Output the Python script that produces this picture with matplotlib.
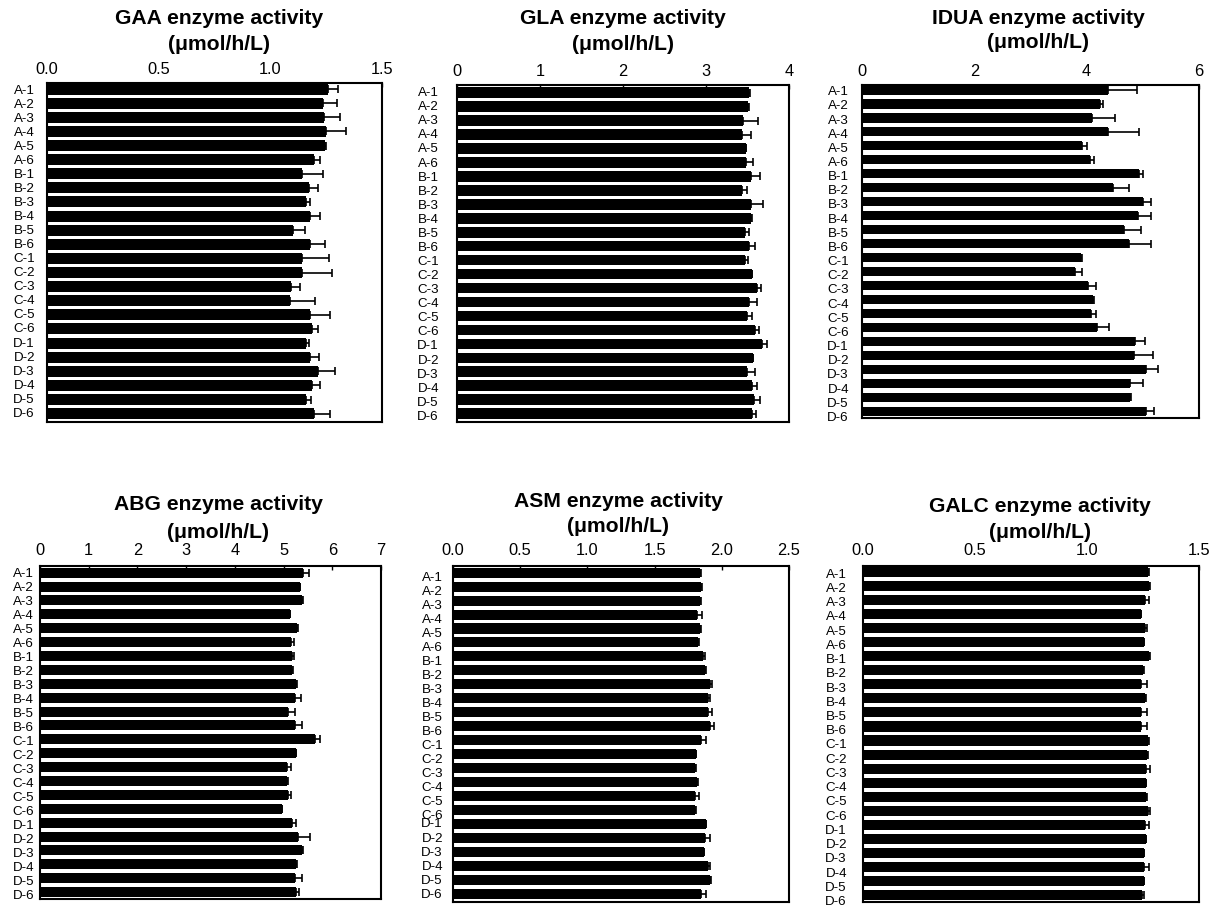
import matplotlib
matplotlib.use("Agg")
import matplotlib.pyplot as plt
import numpy as np

plt.rcParams['font.family'] = ['Liberation Sans', 'DejaVu Sans']

samples = ["A-1", "A-2", "A-3", "A-4", "A-5", "A-6",
           "B-1", "B-2", "B-3", "B-4", "B-5", "B-6",
           "C-1", "C-2", "C-3", "C-4", "C-5", "C-6",
           "D-1", "D-2", "D-3", "D-4", "D-5", "D-6"]

gaa_mean = [1.260, 1.234, 1.241, 1.250, 1.246, 1.196,
            1.144, 1.171, 1.160, 1.178, 1.103, 1.178,
            1.144, 1.144, 1.091, 1.088, 1.178, 1.187,
            1.160, 1.178, 1.213, 1.187, 1.160, 1.196]
gaa_err = [0.042, 0.064, 0.069, 0.090, 0.004, 0.027,
           0.094, 0.042, 0.018, 0.045, 0.052, 0.067,
           0.117, 0.132, 0.042, 0.112, 0.090, 0.025,
           0.015, 0.042, 0.078, 0.036, 0.022, 0.069]

gla_mean = [3.518, 3.506, 3.449, 3.437, 3.477, 3.485,
            3.538, 3.437, 3.546, 3.538, 3.465, 3.518,
            3.465, 3.550, 3.610, 3.518, 3.498, 3.586,
            3.678, 3.566, 3.498, 3.558, 3.578, 3.558]
gla_err = [0.012, 0.012, 0.177, 0.100, 0.008, 0.084,
           0.113, 0.052, 0.145, 0.012, 0.052, 0.068,
           0.044, 0.008, 0.048, 0.092, 0.052, 0.052,
           0.060, 0.004, 0.088, 0.052, 0.072, 0.040]

idua_mean = [4.381, 4.244, 4.095, 4.381, 3.917, 4.065,
             4.929, 4.470, 5.006, 4.917, 4.661, 4.750,
             3.899, 3.798, 4.024, 4.113, 4.077, 4.185,
             4.869, 4.839, 5.060, 4.780, 4.780, 5.060]
idua_err = [0.518, 0.042, 0.417, 0.548, 0.089, 0.071,
            0.071, 0.280, 0.131, 0.220, 0.298, 0.387,
            0.018, 0.119, 0.149, 0.024, 0.095, 0.220,
            0.161, 0.345, 0.208, 0.220, 0.005, 0.137]

abg_mean = [5.397, 5.329, 5.377, 5.123, 5.274, 5.151,
            5.171, 5.171, 5.253, 5.240, 5.089, 5.240,
            5.637, 5.253, 5.068, 5.068, 5.082, 4.966,
            5.171, 5.295, 5.377, 5.260, 5.240, 5.260]
abg_err = [0.116, 0.014, 0.014, 0.014, 0.014, 0.055,
           0.034, 0.014, 0.021, 0.123, 0.137, 0.137,
           0.103, 0.007, 0.089, 0.014, 0.075, 0.003,
           0.089, 0.240, 0.014, 0.014, 0.137, 0.062]

asm_mean = [1.840, 1.848, 1.835, 1.818, 1.835, 1.823,
            1.860, 1.873, 1.910, 1.897, 1.897, 1.910,
            1.848, 1.806, 1.798, 1.818, 1.798, 1.803,
            1.880, 1.873, 1.865, 1.897, 1.910, 1.848]
asm_err = [0.007, 0.005, 0.007, 0.035, 0.012, 0.007,
           0.012, 0.007, 0.017, 0.012, 0.030, 0.030,
           0.037, 0.005, 0.007, 0.005, 0.032, 0.005,
           0.005, 0.037, 0.005, 0.012, 0.012, 0.032]

galc_mean = [1.272, 1.277, 1.257, 1.240, 1.257, 1.253,
             1.277, 1.250, 1.243, 1.260, 1.243, 1.243,
             1.272, 1.268, 1.262, 1.262, 1.265, 1.272,
             1.257, 1.262, 1.253, 1.254, 1.253, 1.247]
galc_err = [0.005, 0.003, 0.019, 0.003, 0.010, 0.003,
            0.003, 0.003, 0.025, 0.003, 0.025, 0.025,
            0.007, 0.003, 0.018, 0.003, 0.003, 0.010,
            0.018, 0.003, 0.003, 0.025, 0.003, 0.006]

titles = ["GAA", "GLA", "IDUA", "ABG", "ASM", "GALC"]
xmaxes = [1.5, 4, 6, 7, 2.5, 1.5]
xticks = [[0.0, 0.5, 1.0, 1.5], [0, 1, 2, 3, 4], [0, 2, 4, 6],
          [0, 1, 2, 3, 4, 5, 6, 7], [0.0, 0.5, 1.0, 1.5, 2.0, 2.5],
          [0.0, 0.5, 1.0, 1.5]]
xticklabels = [["0.0", "0.5", "1.0", "1.5"], ["0", "1", "2", "3", "4"],
               ["0", "2", "4", "6"], ["0", "1", "2", "3", "4", "5", "6", "7"],
               ["0.0", "0.5", "1.0", "1.5", "2.0", "2.5"],
               ["0.0", "0.5", "1.0", "1.5"]]
means = [gaa_mean, gla_mean, idua_mean, abg_mean, asm_mean, galc_mean]
errs = [gaa_err, gla_err, idua_err, abg_err, asm_err, galc_err]

# ---- layout (pixels) ----
W, H = 1230, 908
frames = [(47, 83, 382, 422), (457, 85, 789, 422), (862, 85, 1199, 418),
          (40, 566, 381, 899), (453, 566, 789, 902), (863, 566, 1199, 902)]
ylims = [(23.59, -0.43), (23.6, -0.55), (23.48, -0.36),
         (23.5, -0.48), (23.6, -0.48), (23.47, -0.4)]
bar_h = [0.78, 0.76, 0.65, 0.72, 0.72, 0.72]
ypad_px = [12, 18, 13, 6, 10, 16]
title_pos = [(219, 18, 45), (623, 18, 45), (1038, 18, 43),
             (218, 505, 532), (618, 502, 527), (1040, 507, 533)]
xpad_px = [6, 6, 6, 8, 8, 8]
label_ramp = [(0.0, -0.1), (-0.07, 0.12), (0.05, 0.36),
              (0.0, 0.2), None, (0.12, 0.36)]

fig = plt.figure(figsize=(W / 100, H / 100), dpi=100)

n = len(samples)
idx = np.arange(n)
for k in range(6):
    l, t, r, b = frames[k]
    ax = fig.add_axes([l / W, 1 - b / H, (r - l) / W, (b - t) / H])
    m = np.array(means[k])
    e = np.array(errs[k])
    ax.barh(idx, m, height=bar_h[k], color='black', edgecolor='none', zorder=2)
    ax.errorbar(m, idx, xerr=[np.zeros(n), e], fmt='none', ecolor='black',
                elinewidth=1.2, capsize=3.2, capthick=1.2, zorder=3)
    ax.set_xlim(0, xmaxes[k])
    ax.set_ylim(*ylims[k])
    ax.xaxis.tick_top()
    ax.set_xticks(xticks[k])
    ax.set_xticklabels(xticklabels[k])
    ax.tick_params(axis='x', direction='in', length=3, width=1,
                   labelsize=11.8, pad=xpad_px[k] * 0.72)
    if label_ramp[k] is None:
        offs = np.array([0.3] * 18 + [-0.1, 0, 0, 0, 0, 0])
    else:
        a0, a1 = label_ramp[k]
        offs = a0 + (a1 - a0) * idx / (n - 1)
    ax.set_yticks(idx + offs)
    ax.set_yticklabels(samples)
    ax.tick_params(axis='y', length=0, labelsize=9.6, pad=ypad_px[k] * 0.72)
    for s in ax.spines.values():
        s.set_linewidth(1.5)
        s.set_color('black')
    cx, y1, y2 = title_pos[k]
    fig.text(cx / W, 1 - y1 / H, titles[k] + " enzyme activity",
             ha='center', va='center', fontsize=15.2, fontweight='bold')
    fig.text(cx / W, 1 - y2 / H, "(\u03bcmol/h/L)",
             ha='center', va='center', fontsize=15.2, fontweight='bold')

fig.savefig("out.png", dpi=100, facecolor='white')
